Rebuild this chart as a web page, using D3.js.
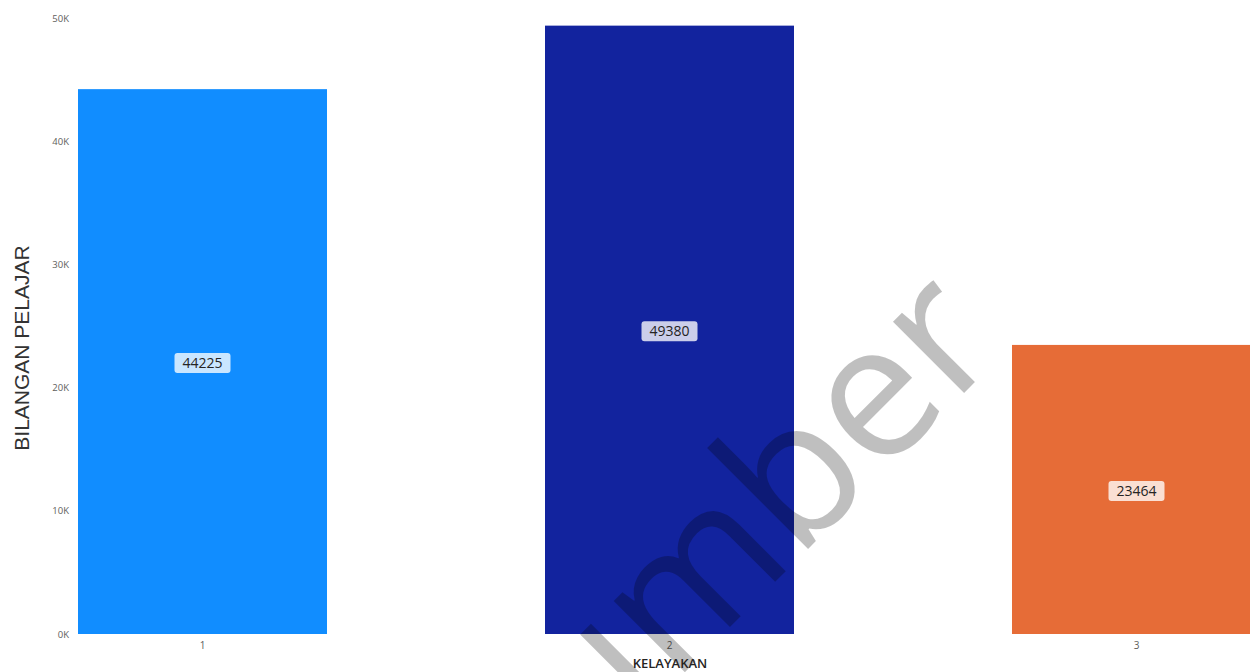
<!DOCTYPE html>
<html>
<head>
<meta charset="utf-8">
<script src="https://cdn.jsdelivr.net/npm/d3@7"></script>
<style>
html,body{margin:0;padding:0;background:#fff;overflow:hidden;}
svg{display:block;}
</style>
</head>
<body>
<svg id="chart" width="1250" height="672"></svg>
<script>
const categories = ["1", "2", "3"];
const values = [44225, 49380, 23464];
const colors = ["#118DFF", "#12239E", "#E66C37"];
const yTicks = [0, 10000, 20000, 30000, 40000, 50000];
const yTickLabels = ["0K", "10K", "20K", "30K", "40K", "50K"];
const yTitle = "BILANGAN PELAJAR";
const xTitle = "KELAYAKAN";
const watermark = "Sumber";

const svg = d3.select("#chart");

const x = d3.scaleBand().domain(categories).range([78, 1261]).paddingInner(0.4668).paddingOuter(0);
const y = d3.scaleLinear().domain([0, 50000]).range([634, 18]);

// y axis
const yAxis = d3.axisLeft(y).tickValues(yTicks).tickFormat((d,i)=>yTickLabels[i]).tickSize(0).tickPadding(0);
const gy = svg.append("g").attr("transform","translate(69,0)").call(yAxis);
gy.select(".domain").remove();
gy.selectAll("text").attr("font-family","'Open Sans', 'Noto Sans', sans-serif").attr("font-size",9.5).attr("fill","#605E5C");

// x axis
const xAxis = d3.axisBottom(x).tickSize(0).tickPadding(8);
const gx = svg.append("g").attr("transform","translate(0,634)").call(xAxis);
gx.select(".domain").remove();
gx.selectAll("text").attr("font-family","'Open Sans', 'Noto Sans', sans-serif").attr("font-size",10).attr("fill","#605E5C");

// bars
svg.append("g").selectAll("rect").data(values).join("rect")
  .attr("x",(d,i)=>x(categories[i]))
  .attr("width",x.bandwidth())
  .attr("y",d=>y(d))
  .attr("height",d=>y(0)-y(d))
  .attr("fill",(d,i)=>colors[i]);

// value labels
const lg = svg.append("g").selectAll("g").data(values).join("g")
  .attr("transform",(d,i)=>`translate(${x(categories[i])+x.bandwidth()/2},${(y(d)+y(0))/2 + 1.5})`);
lg.append("rect").attr("x",-28).attr("y",-10).attr("width",56).attr("height",20).attr("rx",3)
  .attr("fill","#fff").attr("fill-opacity",0.78);
lg.append("text").attr("text-anchor","middle").attr("dy","0.35em")
  .attr("font-family","'Open Sans', 'Noto Sans', sans-serif").attr("font-size",14).attr("fill","#252423")
  .text(d=>d);

// watermark
svg.append("text")
  .attr("transform","translate(1007,350) rotate(-45)")
  .attr("text-anchor","end")
  .attr("font-family","'Open Sans', 'Noto Sans', sans-serif")
  .attr("font-size",188)
  .attr("fill","#000").attr("fill-opacity",0.25)
  .text(watermark);

// axis titles
svg.append("text")
  .attr("transform","translate(29,348) rotate(-90)")
  .attr("text-anchor","middle")
  .attr("font-family","'Liberation Sans', Arial, sans-serif")
  .attr("font-size",21).attr("fill","#333")
  .text(yTitle);

svg.append("text")
  .attr("x",670).attr("y",668)
  .attr("text-anchor","middle")
  .attr("font-family","'Open Sans', 'Noto Sans', sans-serif")
  .attr("font-size",13).attr("font-weight",600).attr("fill","#252423")
  .text(xTitle);
</script>
</body>
</html>
